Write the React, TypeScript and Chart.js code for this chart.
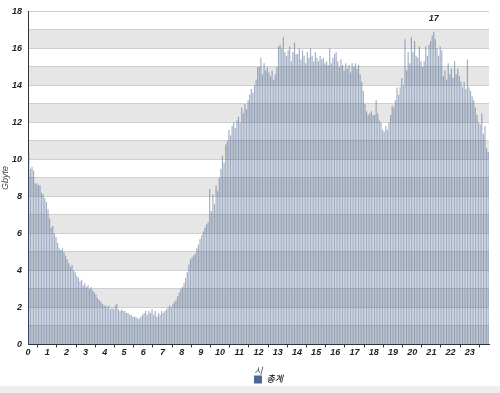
import React, { useEffect, useRef } from "react";
import { Chart, registerables } from "chart.js";

Chart.register(...registerables);

// 5-minute traffic totals (Gbyte), 12 values per hour, hours 0..23
const traffic: number[][] = [
  [10.3, 9.5, 9.6, 9.4, 8.7, 8.7, 8.6, 8.6, 8.2, 8.1, 7.9, 7.7],
  [7.3, 6.8, 6.3, 6.4, 6.0, 5.8, 5.5, 5.2, 5.1, 5.2, 5.0, 4.8],
  [4.6, 4.4, 4.2, 4.3, 4.0, 3.9, 3.7, 3.6, 3.4, 3.5, 3.2, 3.3],
  [3.1, 3.2, 3.0, 3.1, 2.9, 2.8, 2.7, 2.5, 2.4, 2.3, 2.2, 2.1],
  [2.1, 2.0, 2.1, 1.9, 2.0, 1.9, 2.1, 2.2, 1.9, 1.8, 1.9, 1.8],
  [1.8, 1.7, 1.7, 1.6, 1.6, 1.5, 1.5, 1.5, 1.4, 1.4, 1.5, 1.6],
  [1.7, 1.8, 1.6, 1.8, 1.7, 1.9, 1.6, 1.8, 1.5, 1.7, 1.6, 1.8],
  [1.7, 1.8, 1.9, 2.0, 2.1, 2.0, 2.2, 2.3, 2.4, 2.6, 2.8, 3.0],
  [3.1, 3.3, 3.6, 3.9, 4.3, 4.6, 4.7, 4.8, 4.9, 5.2, 5.4, 5.7],
  [5.9, 6.1, 6.3, 6.5, 6.6, 8.4, 7.2, 8.1, 7.6, 8.6, 8.3, 9.0],
  [9.5, 10.2, 9.8, 10.8, 11.0, 11.6, 11.3, 11.8, 12.0, 11.7, 12.1, 12.3],
  [12.0, 12.8, 12.5, 13.0, 12.7, 13.2, 13.5, 13.8, 13.6, 14.0, 14.3, 15.0],
  [15.0, 15.5, 14.6, 15.2, 14.8, 15.0, 14.7, 14.5, 14.8, 14.3, 14.6, 15.0],
  [16.1, 16.2, 16.0, 16.6, 15.8, 15.6, 15.9, 16.1, 15.3, 15.8, 16.3, 15.7],
  [15.7, 16.0, 15.4, 15.9, 15.6, 15.2, 15.8, 15.5, 16.0, 15.6, 15.3, 15.8],
  [15.5, 15.3, 15.6, 15.4, 15.5, 15.2, 15.3, 15.1, 16.0, 15.2, 15.5, 15.7],
  [15.8, 15.3, 15.0, 15.4, 15.1, 14.8, 15.2, 14.9, 15.1, 14.7, 15.2, 15.0],
  [15.2, 14.9, 15.1, 14.6, 14.2, 13.7, 13.0, 12.6, 12.4, 12.5, 12.6, 12.4],
  [12.4, 13.2, 12.5, 12.1, 12.0, 11.6, 11.5, 11.8, 11.6, 12.0, 12.4, 12.9],
  [12.8, 13.2, 13.9, 13.5, 13.9, 14.4, 14.0, 16.5, 14.8, 15.8, 15.2, 16.6],
  [15.8, 16.4, 15.6, 15.5, 16.1, 15.3, 15.0, 15.3, 16.1, 15.6, 16.2, 16.4],
  [16.7, 16.9, 16.5, 16.0, 15.6, 16.1, 15.9, 14.5, 14.8, 14.3, 15.2, 14.6],
  [14.9, 14.4, 15.3, 14.6, 14.9, 14.5, 14.2, 13.9, 14.2, 13.8, 15.4, 13.9],
  [13.7, 13.4, 13.2, 12.8, 12.4, 12.0, 11.9, 12.5, 11.4, 11.8, 10.6, 10.4],
];

const SLOTS_PER_HOUR = 12;
const HOUR_MAX = 24;
const Y_MAX = 18;
const SERIES_LABEL = "총계";
const X_TITLE = "시";
const Y_TITLE = "Gbyte";

const FONT = 'Arial, "Liberation Sans", "Noto Sans CJK KR", sans-serif';

const bandsPlugin = {
  id: "bands",
  beforeDraw(chart: any) {
    const { ctx, chartArea, scales } = chart;
    const y = scales.y;
    ctx.save();
    ctx.fillStyle = "#e6e6e6";
    for (let v = 0; v < Y_MAX; v += 2) {
      const top = y.getPixelForValue(v + 1);
      const bot = y.getPixelForValue(v);
      ctx.fillRect(chartArea.left, top, chartArea.right - chartArea.left, bot - top);
    }
    ctx.restore();
  },
};

const legendShiftPlugin = {
  id: "legendShift",
  afterLayout(chart: any) {
    if (chart.legend) {
      chart.legend.left += 24;
      chart.legend.right += 24;
    }
  },
};

const maxLabelPlugin = {
  id: "maxLabel",
  afterDatasetsDraw(chart: any) {
    const ds = chart.data.datasets[0].data as { x: number; y: number }[];
    let idx = 0;
    ds.forEach((p, i) => {
      if (p.y > ds[idx].y) idx = i;
    });
    const el = chart.getDatasetMeta(0).data[idx];
    if (!el) return;
    const { ctx } = chart;
    ctx.save();
    ctx.font = `italic bold 9px ${FONT}`;
    ctx.fillStyle = "#222";
    ctx.textAlign = "center";
    ctx.textBaseline = "middle";
    ctx.fillText(String(Math.round(ds[idx].y)), el.x, el.y - 13);
    ctx.restore();
  },
};

export default function App() {
  const ref = useRef<HTMLCanvasElement>(null);

  useEffect(() => {
    if (!ref.current) return;
    const points = traffic.flat().map((v, i) => ({
      x: (i + 0.5) / SLOTS_PER_HOUR,
      y: v,
    }));
    const chart = new Chart(ref.current, {
      type: "bar",
      data: {
        datasets: [
          {
            label: SERIES_LABEL,
            data: points as any,
            backgroundColor: "rgba(72, 100, 140, 0.52)",
            borderWidth: 0,
            barPercentage: 0.72,
            categoryPercentage: 1,
          },
        ],
      },
      plugins: [bandsPlugin, maxLabelPlugin, legendShiftPlugin],
      options: {
        animation: false,
        responsive: false,
        devicePixelRatio: 1,
        layout: { padding: { top: 7, right: 11, left: 0, bottom: -1 } },
        plugins: {
          tooltip: { enabled: false },
          legend: {
            position: "bottom",
            labels: {
              boxWidth: 8,
              boxHeight: 8,
              padding: 1,
              color: "#444",
              font: { family: FONT, size: 9, style: "italic" },
              generateLabels: () => [
                {
                  text: SERIES_LABEL,
                  fillStyle: "#4d6790",
                  strokeStyle: "#4d6790",
                  lineWidth: 0,
                  datasetIndex: 0,
                } as any,
              ],
            },
          },
        },
        scales: {
          x: {
            type: "linear",
            min: 0,
            max: HOUR_MAX,
            offset: false,
            grid: {
              drawOnChartArea: false,
              drawTicks: true,
              tickLength: 3,
              color: "#333",
            },
            border: { color: "#333", width: 1 },
            ticks: {
              stepSize: 1,
              autoSkip: false,
              maxRotation: 0,
              padding: 0,
              color: "#222",
              font: { family: FONT, size: 9, style: "italic", weight: "bold" },
              callback: (v: any) => (v < HOUR_MAX ? String(v) : ""),
            },
            title: {
              display: true,
              text: X_TITLE,
              color: "#444",
              padding: { top: 8, bottom: -3 },
              font: { family: FONT, size: 9, style: "italic" },
            },
          },
          y: {
            min: 0,
            max: Y_MAX,
            grid: { color: "#cfcfcf", drawTicks: false },
            border: { color: "#333", width: 1 },
            ticks: {
              stepSize: 1,
              padding: 6,
              color: "#222",
              font: { family: FONT, size: 9, style: "italic", weight: "bold" },
              callback: (v: any) => (v % 2 === 0 ? String(v) : ""),
            },
            title: {
              display: true,
              text: Y_TITLE,
              color: "#444",
              padding: 0,
              font: { family: FONT, size: 9, style: "italic" },
            },
            afterFit: (scale: any) => {
              scale.width = 28;
            },
          },
        },
      },
    });
    return () => chart.destroy();
  }, []);

  return (
    <div
      style={{
        position: "absolute",
        left: 0,
        top: 0,
        width: 500,
        height: 393,
        background: "#fff",
      }}
    >
      <div
        style={{
          position: "absolute",
          left: 0,
          top: 386,
          width: 500,
          height: 7,
          background: "#eeeeee",
        }}
      />
      <canvas
        ref={ref}
        width={500}
        height={393}
        style={{ display: "block", position: "absolute", left: 0, top: 0 }}
      />
    </div>
  );
}
